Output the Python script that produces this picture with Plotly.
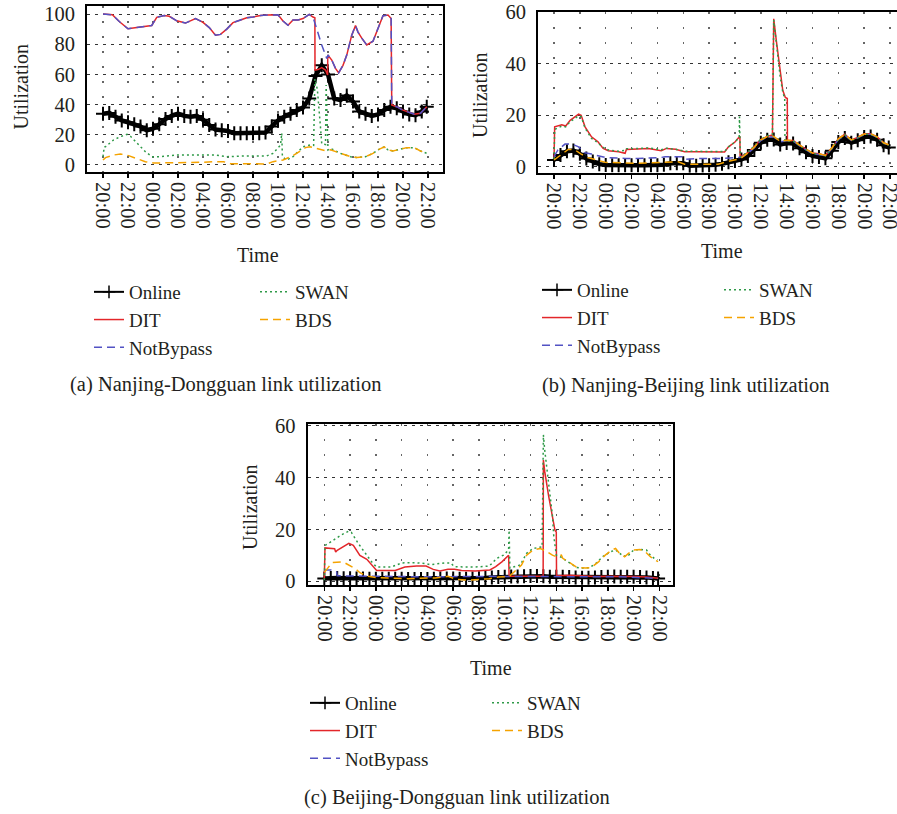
import plotly.graph_objects as go

W, H = 897, 814
FONT = "Liberation Serif"
INK = "#231f20"

TICK_HOURS = [0, 2, 4, 6, 8, 10, 12, 14, 16, 18, 20, 22, 24, 26]
TICK_LABELS = ["20:00", "22:00", "00:00", "02:00", "04:00", "06:00", "08:00",
               "10:00", "12:00", "14:00", "16:00", "18:00", "20:00", "22:00"]

# Online samples every half hour (hours after 20:00 of the first day)
ONLINE_T = [i / 2 for i in range(52)] + [25.9]

# ---------------- (a) Nanjing-Dongguan ----------------
A_ONLINE = [34, 34.5, 32, 29.5, 28.3, 27, 25.5, 23, 24, 27, 30.5, 32.5, 34, 32.5, 32, 32.5,
            30, 26.5, 23.5, 23, 22.5, 21, 21, 21, 21, 21, 21.5, 25.5, 29.5, 32, 34, 36.5,
            38, 44, 59, 66, 60, 44, 43, 46, 42, 35.5, 34, 32.5, 33.5, 36.5, 38.5, 37.5,
            35.5, 33.5, 33, 35.5, 38.5]
A_NOTBYPASS = [(0, 100), (0.75, 99.5), (1.3, 95), (2.0, 90.2), (2.7, 91), (3.3, 91.5), (3.9, 92.4),
               (4.3, 97.8), (4.9, 99), (5.3, 98.5), (5.9, 95.5), (6.6, 94), (7.4, 97), (8.0, 94.5),
               (8.5, 91), (9.0, 86), (9.4, 86.5), (9.9, 90), (10.4, 94.3), (11.0, 96), (11.5, 97.5),
               (12.0, 98), (12.6, 99), (13.1, 99.3), (13.6, 99.5), (14.0, 99.5), (14.4, 95.4),
               (14.8, 92.5), (15.2, 96), (15.6, 96), (16.0, 97), (16.5, 99.8), (16.8, 98),
               (17.1, 90), (17.5, 79.5), (17.9, 70.6), (18.0, 72.8), (18.3, 69.5), (18.6, 64),
               (18.85, 61), (19.2, 66), (19.5, 72.8), (19.9, 86), (20.2, 92.3), (20.4, 88),
               (20.7, 84), (21.1, 79.5), (21.6, 82), (22.0, 90.5), (22.4, 98.9), (22.8, 99.3),
               (23.05, 97), (23.1, 39.7), (23.5, 38.6), (24.0, 36.3), (24.5, 34.5), (24.9, 33.6),
               (25.4, 34.2), (25.9, 38.6)]
A_DIT = [(0, 100), (0.75, 99.5), (1.3, 95), (2.0, 90.2), (2.7, 91), (3.3, 91.5), (3.9, 92.4),
         (4.3, 97.8), (4.9, 99), (5.3, 98.5), (5.9, 95.5), (6.6, 94), (7.4, 97), (8.0, 94.5),
         (8.5, 91), (9.0, 86), (9.4, 86.5), (9.9, 90), (10.4, 94.3), (11.0, 96), (11.5, 97.5),
         (12.0, 98), (12.6, 99), (13.1, 99.3), (13.6, 99.5), (14.0, 99.5), (14.4, 95.4),
         (14.8, 92.5), (15.2, 96), (15.6, 96), (16.0, 97), (16.5, 99.8), (16.8, 98),
         (16.95, 97.5), (16.96, 62.9), (17.2, 63.2), (17.5, 64.5), (17.8, 62.9), (17.97, 59.6),
         (17.98, 72.8), (18.3, 69.5), (18.6, 64), (18.85, 61), (19.2, 66), (19.5, 72.8),
         (19.9, 86), (20.2, 92.3), (20.4, 88), (20.7, 84), (21.1, 79.5), (21.6, 82), (22.0, 90.5),
         (22.4, 98.9), (22.8, 99.3), (23.05, 97), (23.1, 39.7), (23.5, 38.6), (24.0, 36.3),
         (24.5, 34.5), (24.9, 33.6), (25.4, 34.2), (25.9, 38.6)]
A_SWAN = [(0, 5.5), (0.1, 12), (0.2, 12.1), (0.85, 16.6), (1.39, 18.8), (1.92, 20.3), (2.2, 19),
          (2.72, 14.3), (3.39, 8.8), (3.92, 5.5), (4.5, 5.5), (5.9, 6.6), (7.5, 6.8), (9.0, 6.6),
          (9.9, 5.5), (11.5, 6.0), (13.1, 6.0), (13.6, 7.7), (14.2, 13.2), (14.3, 21), (14.35, 5.5),
          (14.7, 3.3), (15.2, 5.5), (16.0, 12.1), (16.56, 13.2), (16.85, 13), (16.95, 57),
          (17.15, 50), (17.35, 30), (17.5, 14), (17.8, 13.5), (17.85, 53), (18.0, 10), (18.2, 11),
          (19.0, 7.7), (19.8, 5.5), (20.3, 4.9), (21.0, 5.5), (21.6, 7.7), (22.0, 10), (22.5, 12),
          (22.8, 10), (23.2, 9.3), (23.9, 10.6), (24.3, 11.5), (24.9, 11.5), (25.4, 9.3), (25.9, 7.7)]
A_BDS = [(0, 3.3), (0.2, 4.9), (0.85, 6.6), (1.4, 7.3), (2.05, 6.2), (2.72, 4.0), (3.39, 2.2),
         (4.05, 1.3), (6.7, 1.3), (8.0, 1.8), (8.85, 2.2), (9.65, 2.2), (10.2, 0.9), (13.1, 0.7),
         (13.6, 2.2), (14.4, 3.3), (15.2, 6.2), (15.8, 9.3), (16.2, 11.5), (16.56, 12.1),
         (17.2, 11.0), (17.8, 9.5), (18.2, 10.0), (19.0, 7.7), (19.8, 5.5), (20.3, 4.9),
         (21.0, 5.5), (21.6, 7.7), (22.0, 10.0), (22.5, 12.0), (22.8, 10.0), (23.2, 9.3),
         (23.9, 10.6), (24.3, 11.5), (24.9, 11.5), (25.4, 9.3), (25.9, 7.7)]

# ---------------- (b) Nanjing-Beijing ----------------
B_ONLINE = [2.6, 4.5, 6.0, 6.3, 5.0, 3.2, 2.0, 1.0, 0.7, 0.6, 0.6, 0.6, 0.6, 0.6, 0.6, 0.6,
            0.6, 0.8, 1.3, 1.3, 1.3, 0.4, 0.4, 0.5, 0.6, 0.8, 1.1, 1.7, 2.2, 2.8, 4.2, 6.5,
            9.3, 10.5, 10.6, 8.6, 9.2, 9.0, 7.2, 5.6, 4.2, 3.8, 3.3, 6.2, 9.6, 11.2, 9.3, 10.3,
            11.5, 11.7, 10.5, 8.3, 7.5]
B_DIT = [(0, 3.2), (0.05, 15.5), (0.6, 16.3), (0.9, 15.8), (1.25, 18), (1.65, 19.6), (1.9, 20.4),
         (2.1, 20), (2.4, 15.5), (2.9, 11.6), (3.4, 9.7), (3.8, 7.1), (4.2, 6.2), (5.0, 5.8),
         (5.5, 5.2), (5.6, 6.7), (6.0, 6.8), (7.3, 7.1), (8.3, 6.2), (8.7, 7.1), (9.4, 6.8),
         (10.1, 5.8), (11.0, 5.8), (12.1, 5.7), (13.2, 5.7), (13.5, 7.7), (14.0, 9.6),
         (14.38, 11.8), (14.4, 3.8), (15.0, 5.5), (15.5, 7.8), (16.0, 10.5), (16.5, 11.8),
         (16.9, 12.3), (17.0, 57.5), (17.2, 49), (17.5, 36), (17.7, 29.7), (17.9, 26.9),
         (18.05, 26.5), (18.06, 10.3), (18.5, 10.2), (19.0, 8.4), (19.5, 6.8), (20.0, 5.3),
         (20.5, 5.0), (21.0, 4.4), (21.5, 7.3), (22.0, 10.8), (22.5, 12.6), (23.0, 10.4),
         (23.5, 11.4), (24.0, 12.8), (24.5, 12.8), (25.0, 11.6), (25.5, 9.3), (25.9, 8.5)]
B_NOTBYPASS = [(0, 3.9), (0.3, 6.5), (0.85, 8.8), (1.4, 8.8), (1.9, 7.7), (2.4, 5.4), (2.9, 4.9),
               (3.95, 3.6), (5.5, 3.2), (6.5, 3.2), (8.3, 3.6), (8.6, 3.9), (9.9, 3.9), (10.1, 2.8),
               (11.0, 3.2), (12.7, 3.2), (14.1, 3.5), (14.5, 3.7), (15.0, 5.2), (15.5, 7.4),
               (16.0, 10.2), (16.5, 11.5), (17.0, 11.6), (17.5, 9.6), (18.0, 10.1), (18.5, 10.0),
               (19.0, 8.1), (19.5, 6.5), (20.0, 5.0), (20.5, 4.7), (21.0, 4.2), (21.5, 7.0),
               (22.0, 10.5), (22.5, 12.2), (23.0, 10.2), (23.5, 11.2), (24.0, 12.5), (24.5, 12.6),
               (25.0, 11.4), (25.5, 9.2), (25.9, 8.3)]
B_SWAN = [(0, 3.0), (0.05, 14.5), (0.6, 15.8), (0.9, 15.5), (1.25, 17.5), (1.65, 19), (1.9, 19.8),
          (2.1, 19.5), (2.4, 15), (2.9, 11), (3.4, 9.3), (3.8, 7.5), (4.2, 6.5), (5.0, 6.0),
          (5.5, 6.3), (5.6, 7.0), (6.0, 7.0), (7.3, 7.3), (8.3, 6.6), (8.7, 7.2), (9.4, 6.8),
          (10.1, 6.0), (11.0, 5.9), (12.1, 5.9), (13.2, 5.9), (13.5, 7.7), (14.0, 9.6),
          (14.33, 11.5), (14.35, 19.5), (14.42, 3.8), (15.0, 5.8), (15.5, 8.0), (16.0, 10.7),
          (16.5, 12.0), (16.9, 12.5), (17.0, 57), (17.2, 48.5), (17.5, 35), (17.7, 29),
          (17.85, 26.5), (17.87, 10.0), (18.5, 10.0), (19.0, 8.2), (19.5, 6.6), (20.0, 5.1),
          (20.5, 4.8), (21.0, 4.2), (21.5, 7.1), (22.0, 10.6), (22.5, 12.4), (23.0, 10.2),
          (23.5, 11.2), (24.0, 12.6), (24.5, 12.6), (25.0, 11.4), (25.5, 9.1), (25.9, 8.3)]
B_BDS = [(0, 2.6), (0.5, 4.5), (1.1, 6.7), (1.6, 6.6), (2.1, 4.9), (2.6, 3.6), (3.4, 2.6),
         (3.95, 1.7), (6.5, 1.3), (8.6, 1.7), (9.6, 1.9), (10.1, 1.0), (12.7, 1.0), (13.6, 2.2),
         (14.4, 3.1), (15.0, 5.3), (15.5, 7.6), (16.0, 10.4), (16.5, 11.7), (17.0, 11.8),
         (17.5, 9.8), (18.0, 10.3), (18.5, 10.2), (19.0, 8.4), (19.5, 6.8), (20.0, 5.3),
         (20.5, 5.0), (21.0, 4.4), (21.5, 7.3), (22.0, 10.8), (22.5, 12.5), (23.0, 10.4),
         (23.5, 11.4), (24.0, 12.7), (24.5, 12.8), (25.0, 11.6), (25.5, 9.3), (25.9, 8.5)]

# ---------------- (c) Beijing-Dongguan ----------------
C_ONLINE = [1.0, 1.2, 1.2, 1.1, 1.1, 1.0, 1.0, 0.9, 0.9, 0.9, 0.9, 0.9, 0.9, 0.8, 0.8, 0.8,
            0.8, 0.9, 1.0, 1.0, 1.0, 0.9, 0.9, 1.0, 1.1, 1.2, 1.4, 1.5, 1.6, 1.7, 1.7, 1.8,
            1.9, 1.9, 1.8, 1.6, 1.6, 1.6, 1.5, 1.4, 1.3, 1.3, 1.4, 1.5, 1.6, 1.7, 1.6, 1.6,
            1.6, 1.5, 1.4, 1.2, 1.0]
C_DIT = [(0, 0.9), (0.05, 12.8), (0.8, 12.5), (0.88, 11.2), (1.0, 11.9), (1.6, 13.5), (1.9, 14.6),
         (2.25, 13.8), (2.76, 9.9), (3.3, 8.4), (3.67, 6.1), (4.06, 4.1), (5.5, 4.1), (6.25, 5.4),
         (7.16, 5.8), (7.9, 5.8), (8.45, 4.5), (8.97, 3.9), (9.6, 4.5), (10.1, 4.5), (10.65, 4.1),
         (11.7, 3.9), (12.85, 4.3), (13.3, 5.6), (13.8, 7.5), (14.3, 10.0), (14.34, 1.8),
         (15.5, 1.8), (16.5, 1.8), (16.98, 1.8), (17.0, 46.8), (17.1, 42.5), (17.4, 33),
         (17.7, 25.4), (17.9, 19.6), (18.0, 19.0), (18.02, 2.0), (19.0, 2.2), (20.0, 2.0),
         (20.1, 1.7), (21.0, 1.7), (22.0, 1.8), (23.0, 1.8), (24.0, 1.7), (25.0, 1.5), (25.9, 1.1)]
C_NOTBYPASS = [(0, 3.8), (0.05, 4.3), (0.5, 4.3), (0.95, 3.6), (1.0, 2.0), (4.0, 1.8), (8.0, 1.6),
               (12.8, 1.8), (14.3, 1.8), (17.0, 1.8), (20.0, 1.7), (23.0, 1.6), (25.9, 1.0)]
C_SWAN = [(0, 0.3), (0.05, 13.8), (0.3, 14.5), (0.83, 16.4), (1.34, 17.9), (1.86, 19.2), (2.1, 18.8),
          (2.64, 14.5), (3.15, 11.0), (3.67, 7.4), (4.06, 5.4), (5.2, 5.4), (6.0, 7.0), (7.0, 7.1),
          (7.9, 6.7), (8.2, 6.3), (9.35, 7.0), (9.8, 7.0), (10.1, 5.5), (11.7, 5.4), (12.8, 5.8),
          (13.4, 8.8), (13.9, 10.0), (14.3, 12.0), (14.34, 19.6), (14.4, 5.0), (15.2, 6.2),
          (15.7, 10.7), (16.2, 12.6), (16.9, 13.2), (17.0, 56.6), (17.1, 50.8), (17.4, 38),
          (17.7, 25.4), (17.8, 17.7), (18.0, 10.0), (18.3, 9.4), (19.1, 6.9), (19.6, 5.2),
          (20.1, 5.0), (20.6, 5.2), (21.1, 6.9), (21.6, 9.4), (22.2, 11.3), (22.6, 12.0),
          (23.1, 10.0), (23.5, 9.4), (24.0, 12.0), (24.5, 12.2), (25.0, 12.0), (25.3, 10.0),
          (25.6, 8.8), (25.85, 8.2)]
C_BDS = [(0, 3.5), (0.2, 4.5), (0.57, 7.1), (1.34, 7.4), (1.6, 7.0), (1.99, 5.8), (2.4, 4.8),
         (2.76, 3.2), (3.4, 1.8), (4.0, 1.3), (6.5, 0.9), (8.6, 1.2), (9.6, 1.8), (10.25, 0.6),
         (11.2, 0.3), (12.8, 0.9), (13.5, 1.5), (14.3, 1.8), (14.4, 2.0), (14.9, 4.3), (15.3, 6.2),
         (15.7, 10.0), (16.2, 12.0), (16.75, 12.6), (17.3, 11.3), (17.7, 10.0), (18.0, 9.4),
         (18.4, 10.0), (18.5, 8.8), (19.1, 6.9), (19.6, 5.2), (20.3, 5.0), (20.7, 5.2),
         (21.3, 7.5), (21.8, 10.0), (22.3, 12.0), (22.6, 12.6), (22.9, 10.7), (23.3, 9.4),
         (23.6, 10.7), (24.0, 12.0), (24.5, 12.2), (24.9, 11.3), (25.3, 9.4), (25.6, 8.2), (25.9, 7.5)]

PANELS = [
    dict(online=A_ONLINE, dit=A_DIT, nb=A_NOTBYPASS, swan=A_SWAN, bds=A_BDS,
         px=(87, 443), py=(6, 172), xr=[-1.28, 27.2], yr=[-4.64, 105.3],
         yt=[0, 20, 40, 60, 80, 100],
         ylab=(20.5, 87), xlab=(258, 255), leg1=89, leg2=255, legy=273,
         cap=(225, 384, "(a) Nanjing-Dongguan link utilization")),
    dict(online=B_ONLINE, dit=B_DIT, nb=B_NOTBYPASS, swan=B_SWAN, bds=B_BDS,
         px=(538, 896.5), py=(12.3, 172.7), xr=[-1.24, 26.5], yr=[-2.33, 60.0],
         yt=[0, 20, 40, 60],
         ylab=(480, 95), xlab=(722, 251), leg1=537, leg2=719, legy=271,
         cap=(685.5, 385, "(b) Nanjing-Beijing link utilization")),
    dict(online=C_ONLINE, dit=C_DIT, nb=C_NOTBYPASS, swan=C_SWAN, bds=C_BDS,
         px=(307.7, 673.3), py=(424, 585), xr=[-1.29, 27.08], yr=[-1.55, 60.77],
         yt=[0, 20, 40, 60],
         ylab=(250, 507), xlab=(491, 668), leg1=305, leg2=487, legy=684,
         cap=(456.5, 797, "(c) Beijing-Dongguan link utilization")),
]

RED = "#e3262a"
BLUE = "#5252c4"
GREEN = "#2f9a48"
ORANGE = "#f5a300"

fig = go.Figure()
layout = dict(width=W, height=H, margin=dict(l=0, r=0, t=0, b=0, pad=0, autoexpand=False),
              paper_bgcolor="white", plot_bgcolor="white",
              font=dict(family=FONT, size=20, color=INK), annotations=[])


def unzip(pairs):
    return [a for a, _ in pairs], [b for _, b in pairs]


for i, p in enumerate(PANELS):
    n = "" if i == 0 else str(i + 1)
    xa, ya = "x" + n, "y" + n
    lg1, lg2 = "legend" + ("" if i == 0 else str(2 * i + 1)), "legend" + str(2 * i + 2)

    fig.add_trace(go.Scatter(x=ONLINE_T, y=p["online"], name="Online", mode="lines+markers",
                             xaxis=xa, yaxis=ya, showlegend=False,
                             line=dict(color="black", width=4.5),
                             marker=dict(symbol="cross-thin", size=10,
                                         line=dict(color="black", width=2))))
    # legend-only entry for Online (thin line with a cross, as in the reference key)
    fig.add_trace(go.Scatter(x=[None], y=[None], name="Online", mode="lines+markers",
                             xaxis=xa, yaxis=ya, legend=lg1, legendrank=1,
                             line=dict(color="black", width=2),
                             marker=dict(symbol="cross-thin", size=9,
                                         line=dict(color="black", width=1.5))))
    t, v = unzip(p["dit"])
    fig.add_trace(go.Scatter(x=t, y=v, name="DIT", mode="lines", xaxis=xa, yaxis=ya,
                             legend=lg1, legendrank=2, line=dict(color=RED, width=1.5)))
    t, v = unzip(p["nb"])
    fig.add_trace(go.Scatter(x=t, y=v, name="NotBypass", mode="lines", xaxis=xa, yaxis=ya,
                             legend=lg1, legendrank=3,
                             line=dict(color=BLUE, width=1.5, dash="8px,5px")))
    t, v = unzip(p["swan"])
    fig.add_trace(go.Scatter(x=t, y=v, name="SWAN", mode="lines", xaxis=xa, yaxis=ya,
                             legend=lg2, legendrank=4,
                             line=dict(color=GREEN, width=1.5, dash="2px,3px")))
    t, v = unzip(p["bds"])
    fig.add_trace(go.Scatter(x=t, y=v, name="BDS", mode="lines", xaxis=xa, yaxis=ya,
                             legend=lg2, legendrank=5,
                             line=dict(color=ORANGE, width=1.5, dash="8px,5px")))

    layout["xaxis" + n] = dict(
        domain=[p["px"][0] / W, p["px"][1] / W], anchor=ya, range=p["xr"],
        tickvals=TICK_HOURS, ticktext=TICK_LABELS, tickangle=90, automargin=False,
        ticklabeloverflow="allow",
        tickfont=dict(size=20.5, color=INK), showline=True, linewidth=2, linecolor="black",
        mirror=True, ticks="outside", ticklen=4, tickwidth=1.5, tickcolor="black",
        showgrid=True, gridcolor="#666666", gridwidth=1.5, griddash="2px,13px",
        zeroline=False)
    layout["yaxis" + n] = dict(
        domain=[1 - p["py"][1] / H, 1 - p["py"][0] / H], anchor=xa, range=p["yr"],
        tickvals=p["yt"], tickfont=dict(size=20.5, color=INK), showline=True, linewidth=2,
        linecolor="black", mirror=True, ticks="", ticklabelstandoff=6, automargin=False,
        ticklabeloverflow="allow",
        showgrid=True, gridcolor="#333333", gridwidth=1, griddash="3px,5px",
        zeroline=False)
    for lg, lx in ((lg1, p["leg1"]), (lg2, p["leg2"])):
        layout[lg] = dict(x=lx / W, y=1 - p["legy"] / H, xanchor="left", yanchor="top",
                          orientation="v", bgcolor="rgba(0,0,0,0)", borderwidth=0,
                          font=dict(family=FONT, size=19, color=INK), traceorder="normal")
    layout["annotations"] += [
        dict(x=p["ylab"][0] / W, y=1 - p["ylab"][1] / H, xref="paper", yref="paper",
             text="Utilization", textangle=-90, showarrow=False, font=dict(size=20, color=INK),
             xanchor="center", yanchor="middle"),
        dict(x=p["xlab"][0] / W, y=1 - p["xlab"][1] / H, xref="paper", yref="paper",
             text="Time", showarrow=False, font=dict(size=20, color=INK),
             xanchor="center", yanchor="middle"),
        dict(x=p["cap"][0] / W, y=1 - p["cap"][1] / H, xref="paper", yref="paper",
             text=p["cap"][2], showarrow=False, font=dict(size=20.5, color=INK),
             xanchor="center", yanchor="middle"),
    ]

fig.update_layout(**layout)
fig.write_html("out.html", config={"staticPlot": True, "displayModeBar": False},
               post_script="document.body.style.margin='0px';")
